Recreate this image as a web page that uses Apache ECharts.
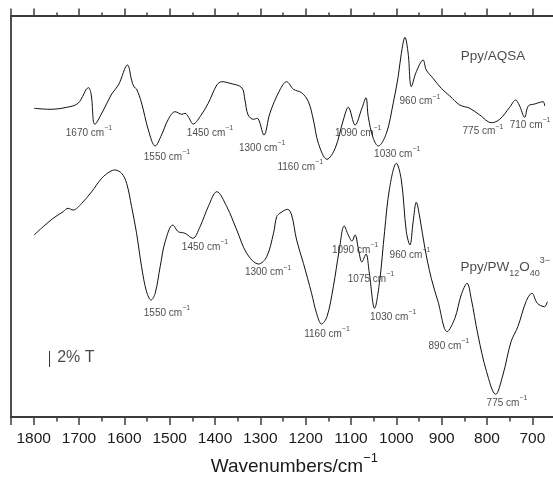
<!DOCTYPE html>
<html><head><meta charset="utf-8">
<script src="https://cdn.jsdelivr.net/npm/echarts@6/dist/echarts.min.js"></script>
<style>html,body{margin:0;padding:0;background:#fff}#c{width:553px;height:479px}</style>
</head><body><div id="c"></div>
<script>
// Ppy/AQSA spectrum: wavenumber (cm-1) and relative transmittance (arbitrary offset units)
const aqsaWn = [1799,1764,1727,1702,1679,1673,1665,1646,1628,1613,1593,1584,1579,1573,1562,1547,1532,1518,1503,1488,1473,1466,1459,1448,1433,1415,1396,1385,1367,1341,1334,1327,1315,1307,1292,1279,1257,1242,1227,1209,1194,1183,1172,1153,1135,1117,1106,1091,1076,1067,1062,1051,1040,1022,1007,996,989,981,974,967,956,941,934,919,901,882,860,838,816,790,772,750,737,729,717,709,695,676,673];
const aqsaT = [308.7,307.7,309.7,313.7,329.3,322,292.7,307,323,332,352,337,330.3,328,314,287,271,282,297.7,305.3,302.7,303.7,300.3,293,300.3,313.7,332,335.3,333.7,329.3,317,302,297.7,298.7,282,303.7,327,335.3,327.7,324.3,315.3,297,273.7,257.7,268.7,297,309.7,292,308.7,319.3,300.3,278.7,271,283.7,313.7,340.3,363.7,379.7,363.7,330.3,345.3,357,347,338.7,328.7,321,312,308.7,302,294.3,297.7,309.7,317,312,299.7,311,313,315.3,311];

// Ppy/PW12O40(3-) spectrum
const pwWn = [1799,1779,1757,1735,1724,1713,1694,1672,1650,1632,1621,1606,1595,1584,1573,1562,1551,1541,1532,1521,1510,1493,1481,1466,1449,1433,1415,1396,1374,1352,1330,1304,1286,1271,1264,1257,1240,1231,1220,1205,1187,1176,1165,1153,1139,1126,1115,1106,1098,1091,1084,1076,1067,1060,1048,1037,1026,1015,1000,989,978,970,963,956,948,937,923,908,888,871,857,844,835,820,801,781,765,747,732,714,701,689,673,667];
const pwT = [182,190.3,198.7,205.3,208.7,207,213.7,225.3,238.7,245.3,247,243.7,233.7,210.3,183.7,150.3,125.3,117,123.7,150.3,175.3,192,185.3,183.7,178.7,190.3,210.3,225.3,210.3,187,163.7,153,160.3,183.7,200.3,203.7,207.7,202,177,153.7,123.7,103.7,93,100.3,130.3,167,191,182,176,182,168.7,155,163,145.3,108.7,135.3,185.3,228.7,253.7,237,185.3,172,195.3,214.7,198.7,168.7,138.7,115.3,85.3,98.7,122,133.7,118.7,82,45.3,22.7,42,75.3,90.3,115.3,123.7,113.7,110.3,115.3];

// x tick labels
const xTickLabels = [1800,1700,1600,1500,1400,1300,1200,1100,1000,900,800,700];

// band annotations: [anchor wavenumber, anchor transmittance, band text]
const aqsaBands = [[1678,283.7,'1670'],[1506,260,'1550'],[1411,283.7,'1450'],[1296,268.7,'1300'],[1212,250,'1160'],[1084,284,'1090'],[998,263,'1030'],[948,315.3,'960'],[809,285.3,'775'],[705,292,'710']];
const pwBands = [[1506,104,'1550'],[1422,169.7,'1450'],[1283,144.3,'1300'],[1153,83,'1160'],[1091,167,'1090'],[1056,138,'1075'],[1007,99.7,'1030'],[970,162,'960'],[884,71,'890'],[756,13.7,'775']];

// curve name annotations
const aqsaName = [[787,359.7,'{m|Ppy/AQSA}']];
const pwName = [[760,149,'{m|Ppy/PW}{b|12}{m|O}{b|40}{p|3−}']];

// 2 % T scale bar
const scaleBarWn = [1765,1765];
const scaleBarT = [50,66];
const scaleText = [[1707,59,'2% T']];

const FONT = '"Liberation Sans", Arial, Helvetica, sans-serif';
const INK = '#1a1a1a';
const AX = '#3c3c3c';

const zip = (a,b) => a.map((v,i)=>[v,b[i]]);

const chart = echarts.init(document.getElementById('c'), null, {renderer:'canvas'});

const bandLabel = {
  show: true, position: 'inside', offset: [0,-1.75],
  formatter: p => '{m|' + p.value[2] + ' cm}{s|−1}',
  rich: {
    m: {fontSize: 10, lineHeight: 10, verticalAlign: 'bottom', fontFamily: FONT, color: INK},
    s: {fontSize: 7, lineHeight: 13.5, verticalAlign: 'top', fontFamily: FONT, color: INK}
  }
};

const nameRich = {
  m: {fontSize: 13.5, lineHeight: 13.5, verticalAlign: 'bottom', padding: [0,0,3,0], fontFamily: FONT, color: INK},
  b: {fontSize: 9, lineHeight: 9, verticalAlign: 'bottom', fontFamily: FONT, color: INK},
  p: {fontSize: 9, lineHeight: 21.25, verticalAlign: 'top', fontFamily: FONT, color: INK}
};

const baseX = {
  type: 'value', min: 600, max: 1850, interval: 100, inverse: true,
  splitLine: {show: false},
  axisLine: {show: true, onZero: false, lineStyle: {color: AX, width: 1.8}},
  axisTick: {show: true, inside: false, length: 8, lineStyle: {color: AX, width: 1.5}},
  minorTick: {show: true, splitNumber: 2, length: 4.5, lineStyle: {color: AX, width: 1.5}},
  minorSplitLine: {show: false}
};

chart.setOption({
  animation: false,
  backgroundColor: '#fff',
  grid: {left: 11, right: -24.7, top: 16, bottom: 62, containLabel: false, outerBoundsMode: 'none'},
  xAxis: [
    Object.assign({}, baseX, {
      position: 'bottom',
      axisLabel: {
        show: true, margin: 13.5, fontSize: 15.5, fontFamily: FONT, color: INK,
        formatter: v => xTickLabels.indexOf(v) >= 0 ? String(v) : ''
      },
      name: '{m|Wavenumbers/cm}{s|−1}',
      nameLocation: 'middle', nameGap: 34.5, nameMoveOverlap: false,
      nameTextStyle: {
        rich: {
          m: {fontSize: 19, lineHeight: 19, verticalAlign: 'bottom', fontFamily: FONT, color: INK},
          s: {fontSize: 13, lineHeight: 25, verticalAlign: 'top', fontFamily: FONT, color: INK}
        }
      }
    }),
    Object.assign({}, baseX, {
      position: 'top',
      axisLabel: {show: false},
      axisTick: {show: true, inside: false, length: 7.5, lineStyle: {color: AX, width: 1.5}},
      minorTick: {show: true, splitNumber: 2, length: 3.5, lineStyle: {color: AX, width: 1.5}}
    })
  ],
  yAxis: {
    type: 'value', min: 0, max: 401,
    axisLine: {show: true, lineStyle: {color: AX, width: 1.8}},
    axisTick: {show: false}, axisLabel: {show: false}, splitLine: {show: false}
  },
  series: [
    {name: 'Ppy/AQSA', type: 'line', data: zip(aqsaWn, aqsaT), smooth: 0.35,
     showSymbol: false, lineStyle: {color: '#111', width: 1}, silent: true},
    {name: 'Ppy/PW12O40', type: 'line', data: zip(pwWn, pwT), smooth: 0.35,
     showSymbol: false, lineStyle: {color: '#111', width: 1}, silent: true},
    {name: 'scale bar', type: 'line', data: zip(scaleBarWn, scaleBarT),
     showSymbol: false, lineStyle: {color: '#333', width: 1}, silent: true},
    {type: 'scatter', symbolSize: 0, data: aqsaBands, label: bandLabel, silent: true},
    {type: 'scatter', symbolSize: 0, data: pwBands, label: bandLabel, silent: true},
    {type: 'scatter', symbolSize: 0, data: scaleText, silent: true,
     label: {show: true, position: 'inside', formatter: p => p.value[2],
             fontSize: 16, fontFamily: FONT, color: INK}},
    {type: 'scatter', symbolSize: 0, data: aqsaName, silent: true,
     label: {show: true, position: 'inside', offset: [0,1.75], formatter: p => p.value[2], rich: nameRich}},
    {type: 'scatter', symbolSize: 0, data: pwName, silent: true,
     label: {show: true, position: 'inside', offset: [0,-0.9], formatter: p => p.value[2], rich: nameRich}}
  ]
});
</script></body></html>
